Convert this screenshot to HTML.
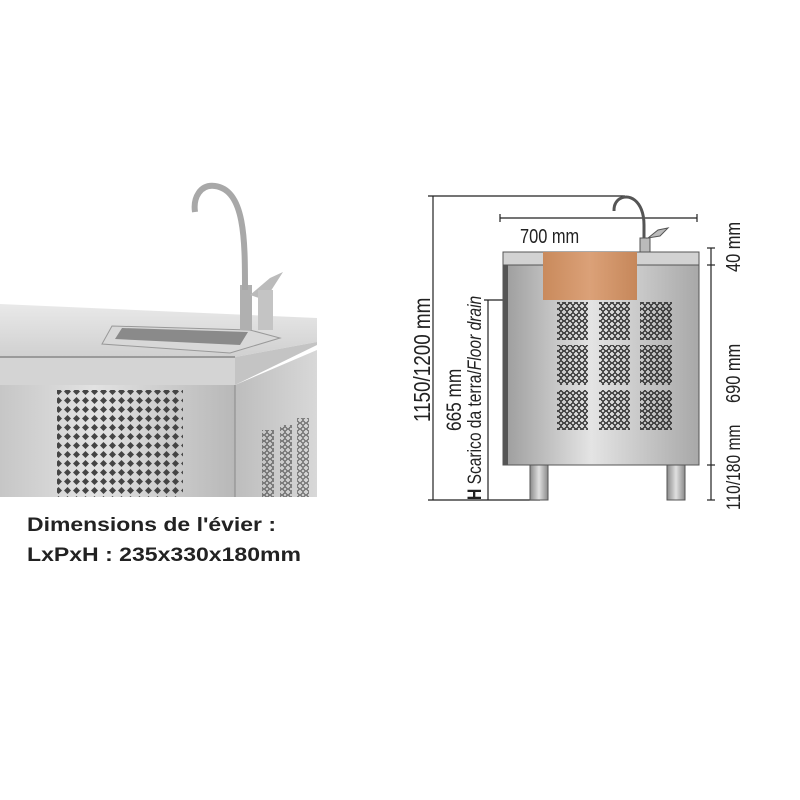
<!DOCTYPE html>
<html><head><meta charset="utf-8"><style>
html,body{margin:0;padding:0;background:#fff;width:800px;height:800px;overflow:hidden}
</style></head><body>
<svg width="800" height="800" style="position:absolute;left:0;top:0">
<defs>
<linearGradient id="top" x1="0" y1="0" x2="0" y2="1"><stop offset="0" stop-color="#e9e9e9"/><stop offset="1" stop-color="#d0d0d0"/></linearGradient>
<linearGradient id="front" x1="0" y1="0" x2="1" y2="0"><stop offset="0" stop-color="#c6c6c6"/><stop offset="0.4" stop-color="#e2e2e2"/><stop offset="1" stop-color="#b8b8b8"/></linearGradient>
<linearGradient id="side" x1="0" y1="0" x2="1" y2="0"><stop offset="0" stop-color="#bdbdbd"/><stop offset="1" stop-color="#d8d8d8"/></linearGradient>
<linearGradient id="body" x1="0" y1="0" x2="1" y2="0"><stop offset="0" stop-color="#9c9c9c"/><stop offset="0.45" stop-color="#e4e4e4"/><stop offset="1" stop-color="#a8a8a8"/></linearGradient>
<linearGradient id="cu" x1="0" y1="0" x2="1" y2="0"><stop offset="0" stop-color="#c98a5c"/><stop offset="0.5" stop-color="#dba178"/><stop offset="1" stop-color="#c6875a"/></linearGradient>
<linearGradient id="leg" x1="0" y1="0" x2="1" y2="0"><stop offset="0" stop-color="#8a8a8a"/><stop offset="0.5" stop-color="#e0e0e0"/><stop offset="1" stop-color="#8a8a8a"/></linearGradient>
<pattern id="dia" width="9" height="9" patternUnits="userSpaceOnUse"><path d="M4.5 1 L8 4.5 L4.5 8 L1 4.5Z" fill="#444"/></pattern>
<pattern id="dia2" width="6" height="6" patternUnits="userSpaceOnUse"><path d="M3 0.5 L5.5 3 L3 5.5 L0.5 3Z" fill="none" stroke="#222" stroke-width="1.2"/></pattern>
</defs>
<polygon points="0,304 317,318 317,342 235,357 0,357" fill="url(#top)"/>
<polygon points="0,357 235,357 235,385 0,385" fill="#d4d4d4"/>
<line x1="0" y1="357" x2="235" y2="357" stroke="#9a9a9a" stroke-width="2"/>
<polygon points="235,357 317,342 317,345 235,385" fill="#c4c4c4"/>
<rect x="0" y="385" width="235" height="112" fill="url(#front)"/>
<polygon points="235,385 317,350 317,497 235,497" fill="url(#side)"/>
<line x1="235" y1="385" x2="235" y2="497" stroke="#888"/>
<rect x="57" y="390" width="126" height="107" fill="url(#dia)"/>
<rect x="262" y="430" width="12" height="67" fill="url(#dia2)" opacity="0.6"/>
<rect x="280" y="425" width="12" height="72" fill="url(#dia2)" opacity="0.6"/>
<rect x="297" y="418" width="12" height="79" fill="url(#dia2)" opacity="0.6"/>
<path d="M102 344 L112 326 L250 330 L280 338 L230 353 Z" fill="#d8d8d8" stroke="#999"/>
<path d="M115 339 L122 328 L248 332 L240 345 Z" fill="#8a8a8a"/>
<rect x="240" y="285" width="12" height="45" fill="#b0b0b0"/>
<path d="M245 290 C245 240 245 190 215 186 C200 184 193 198 195 212" fill="none" stroke="#a8a8a8" stroke-width="6"/>
<path d="M250 295 L270 278 L283 272 L265 300 Z" fill="#bbb"/>
<rect x="258" y="290" width="15" height="40" fill="#c4c4c4"/>
<g stroke="#222" stroke-width="1.2" fill="none">
<line x1="433" y1="196" x2="433" y2="500"/>
<line x1="428" y1="196" x2="625" y2="196"/>
<line x1="500" y1="218" x2="697" y2="218"/>
<line x1="500" y1="214" x2="500" y2="222"/><line x1="697" y1="214" x2="697" y2="222"/>
<line x1="428" y1="500" x2="540" y2="500"/>
<line x1="711" y1="248" x2="711" y2="500"/>
<line x1="707" y1="248" x2="715" y2="248"/><line x1="707" y1="265" x2="715" y2="265"/>
<line x1="707" y1="465" x2="715" y2="465"/><line x1="707" y1="500" x2="715" y2="500"/>
<line x1="488" y1="300" x2="488" y2="500"/>
<line x1="484" y1="300" x2="560" y2="300"/>
</g>
<rect x="503" y="252" width="196" height="13" fill="#d2d2d2" stroke="#555"/>
<rect x="503" y="265" width="196" height="200" fill="url(#body)" stroke="#555"/>
<rect x="503" y="265" width="5" height="200" fill="#555"/>
<rect x="543" y="252" width="94" height="48" fill="url(#cu)"/>
<rect x="557" y="302" width="31" height="38" fill="url(#dia2)"/>
<rect x="599" y="302" width="31" height="38" fill="url(#dia2)"/>
<rect x="640" y="302" width="32" height="38" fill="url(#dia2)"/>
<rect x="557" y="345" width="31" height="40" fill="url(#dia2)"/>
<rect x="599" y="345" width="31" height="40" fill="url(#dia2)"/>
<rect x="640" y="345" width="32" height="40" fill="url(#dia2)"/>
<rect x="557" y="390" width="31" height="40" fill="url(#dia2)"/>
<rect x="599" y="390" width="31" height="40" fill="url(#dia2)"/>
<rect x="640" y="390" width="32" height="40" fill="url(#dia2)"/>
<rect x="530" y="465" width="18" height="35" fill="url(#leg)" stroke="#555"/>
<rect x="667" y="465" width="18" height="35" fill="url(#leg)" stroke="#555"/>
<path d="M644 245 L644 225 C644 200 628 192 618 200 C614 204 614 208 614 211" fill="none" stroke="#555" stroke-width="3"/>
<rect x="640" y="238" width="10" height="14" fill="#bbb" stroke="#555"/>
<path d="M648 238 L658 230 L668 228 L660 236 Z" fill="#bbb" stroke="#555"/>
<g font-family="Liberation Sans, sans-serif" fill="#222">
<text transform="translate(520,243) scale(0.82,1)" font-size="20">700 mm</text>
<text transform="translate(430,422) rotate(-90) scale(0.82,1)" font-size="23">1150/1200 mm</text>
<text transform="translate(461,431) rotate(-90) scale(0.82,1)" font-size="21">665 mm</text>
<text transform="translate(481,500) rotate(-90) scale(0.82,1)" font-size="19"><tspan font-weight="bold">H</tspan> Scarico da terra/<tspan font-style="italic">Floor drain</tspan></text>
<text transform="translate(740,272) rotate(-90) scale(0.82,1)" font-size="20">40 mm</text>
<text transform="translate(740,403) rotate(-90) scale(0.82,1)" font-size="20">690 mm</text>
<text transform="translate(740,510) rotate(-90) scale(0.82,1)" font-size="19">110/180 mm</text>
<text x="27" y="531" font-size="19" font-weight="bold" textLength="249" lengthAdjust="spacingAndGlyphs">Dimensions de l'évier :</text>
<text x="27" y="561" font-size="19" font-weight="bold" textLength="274" lengthAdjust="spacingAndGlyphs">LxPxH : 235x330x180mm</text>
</g>
</svg>
</body></html>
